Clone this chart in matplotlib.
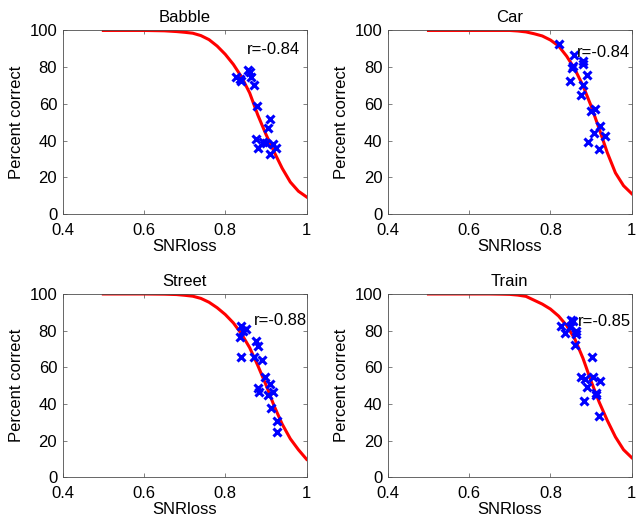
import matplotlib
matplotlib.use('Agg')
from matplotlib import pyplot as plt

plt.rcParams['font.family'] = ['Liberation Sans', 'DejaVu Sans']

titles = ['Babble', 'Car', 'Street', 'Train']
r_labels = ['r=-0.84', 'r=-0.84', 'r=-0.88', 'r=-0.85']
r_pos = [(0.852, 89.5), (0.864, 88.2), (0.870, 85.6), (0.868, 85.1)]

# fitted curves
curve_x = [0.5, 0.6, 0.65, 0.68, 0.70, 0.72, 0.74, 0.76, 0.78, 0.80,
           0.82, 0.84, 0.86, 0.88, 0.90, 0.92, 0.94, 0.96, 0.98, 1.0]
babble_curve = [100, 100, 99.8, 99.4, 99.0, 98.5, 97.2, 95.0, 91.5, 87.0,
                81.5, 74.7, 66.0, 54.0, 43.5, 34.0, 25.0, 17.5, 12.5, 9.4]
car_curve = [100, 100, 100, 100, 100, 99.7, 99.2, 98.2, 97.0, 94.8,
             91.6, 86.0, 79.0, 70.0, 59.0, 46.5, 33.5, 22.5, 15.5, 11.2]
street_curve = [100, 100, 99.9, 99.7, 99.3, 98.8, 97.6, 95.5, 92.5, 88.8,
                84.2, 78.2, 70.7, 61.0, 50.5, 39.0, 29.0, 21.0, 15.0, 9.8]
train_curve = [100, 100, 100, 99.9, 99.8, 99.4, 98.7, 96.6, 94.5, 91.8,
               88.0, 82.8, 75.5, 65.0, 52.5, 41.0, 31.0, 22.0, 15.0, 10.7]

# listener scores
babble_x = [0.827, 0.835, 0.839, 0.856, 0.862, 0.864, 0.870, 0.878, 0.911, 0.906,
            0.876, 0.880, 0.894, 0.899, 0.917, 0.925, 0.911]
babble_y = [74.6, 73.7, 72.3, 78.6, 77.4, 74.6, 70.5, 59.1, 52.0, 46.9,
            41.1, 36.1, 39.3, 38.9, 38.4, 36.1, 32.8]
car_x = [0.820, 0.858, 0.856, 0.852, 0.880, 0.880, 0.889, 0.848, 0.880, 0.875,
         0.901, 0.909, 0.921, 0.907, 0.935, 0.893, 0.920]
car_y = [92.4, 86.4, 80.6, 79.5, 83.2, 81.9, 75.5, 72.3, 70.5, 65.0,
         56.0, 57.1, 48.0, 44.4, 42.4, 39.3, 35.7]
street_x = [0.839, 0.852, 0.843, 0.835, 0.839, 0.875, 0.880, 0.870, 0.891, 0.898,
            0.910, 0.880, 0.882, 0.906, 0.917, 0.913, 0.927, 0.927]
street_y = [82.3, 80.7, 80.0, 76.3, 65.4, 74.5, 71.8, 65.4, 63.9, 54.5,
            50.8, 48.5, 46.6, 44.8, 46.6, 37.9, 30.8, 24.8]
train_x = [0.827, 0.837, 0.850, 0.856, 0.848, 0.864, 0.864, 0.860, 0.902, 0.876,
           0.886, 0.905, 0.922, 0.891, 0.911, 0.911, 0.883, 0.919]
train_y = [82.7, 78.7, 86.0, 85.1, 81.8, 79.6, 78.1, 71.9, 65.4, 54.5,
           53.7, 54.5, 52.7, 49.0, 45.9, 44.8, 41.7, 33.4]

curves = [babble_curve, car_curve, street_curve, train_curve]
xs = [babble_x, car_x, street_x, train_x]
ys = [babble_y, car_y, street_y, train_y]

fig = plt.figure(figsize=(6.4, 5.25), dpi=100)
boxes = [[0.098, 0.592, 0.381, 0.350], [0.606, 0.592, 0.381, 0.350],
         [0.098, 0.091, 0.381, 0.349], [0.606, 0.091, 0.381, 0.349]]

for i in range(4):
    ax = fig.add_axes(boxes[i])
    ax.plot(curve_x, curves[i], color='red', linewidth=2.2)
    ax.plot(xs[i], ys[i], linestyle='none', marker='x', color='blue',
            markersize=5.5, markeredgewidth=2.2)
    ax.text(r_pos[i][0], r_pos[i][1], r_labels[i], fontsize=12,
            ha='left', va='center')
    ax.set_xlim(0.4, 1)
    ax.set_ylim(0, 100)
    ax.set_xticks([0.4, 0.6, 0.8, 1])
    ax.set_xticklabels(['0.4', '0.6', '0.8', '1'])
    ax.set_yticks([0, 20, 40, 60, 80, 100])
    ax.tick_params(direction='in', length=3, width=0.5, labelsize=12,
                   top=True, right=True, color='0.3')
    ax.tick_params(axis='x', pad=6)
    ax.tick_params(axis='y', pad=4)
    for s in ax.spines.values():
        s.set_linewidth(0.6)
        s.set_color('0.3')
    ax.set_title(titles[i], fontsize=12, pad=6)
    ax.set_xlabel('SNRloss', fontsize=12, labelpad=1)
    ax.set_ylabel('Percent correct', fontsize=12, labelpad=4)

fig.savefig('out.png', dpi=100)
